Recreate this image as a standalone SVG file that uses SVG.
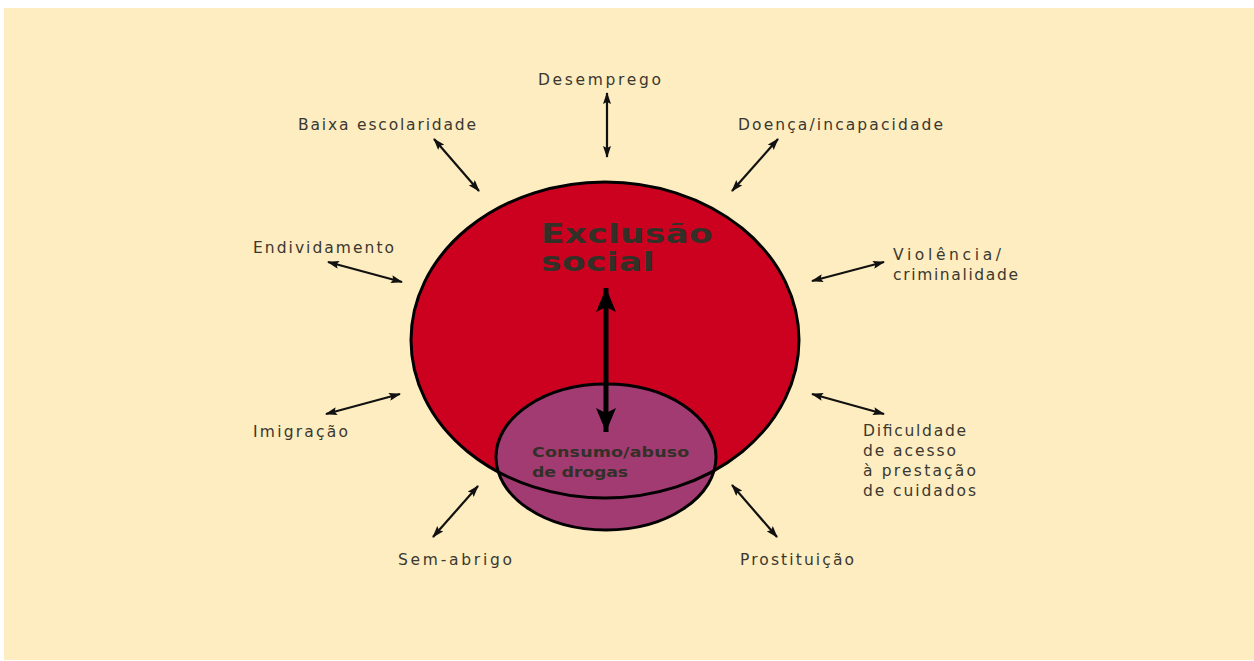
<svg xmlns="http://www.w3.org/2000/svg" width="1254" height="661" viewBox="0 0 1254 661">
<defs>
<marker id="ah" viewBox="0 0 12 8" refX="11" refY="4" markerWidth="12" markerHeight="8" markerUnits="userSpaceOnUse" orient="auto-start-reverse">
<path d="M0,0 L12,4 L0,8 L2,4 Z" fill="#111"/>
</marker>
<marker id="ahb" viewBox="0 0 24 20" refX="24" refY="10" markerWidth="24" markerHeight="20" markerUnits="userSpaceOnUse" orient="auto-start-reverse">
<path d="M0,0 L24,10 L0,20 L5,10 Z" fill="#000"/>
</marker>
<style>
.lbl{font-family:"DejaVu Sans","Liberation Sans",sans-serif;font-size:15.5px;fill:#3a3830}
.big{font-family:"DejaVu Sans","Liberation Sans",sans-serif;font-weight:bold;font-size:26px;fill:#333028}
.mid{font-family:"DejaVu Sans","Liberation Sans",sans-serif;font-weight:bold;font-size:14.5px;fill:#333028}
.arr{stroke:#111;stroke-width:2.2;fill:none;marker-start:url(#ah);marker-end:url(#ah)}
</style>
</defs>
<rect x="0" y="0" width="1254" height="661" fill="#ffffff"/>
<rect x="4" y="8" width="1250" height="652" fill="#FEEDC0"/>
<g id="exclusao">
<ellipse cx="605" cy="340" rx="194" ry="158" fill="#CC001F"/>
</g>
<g id="consumo">
<ellipse cx="606" cy="457" rx="110" ry="73" fill="#A33B73" stroke="#000" stroke-width="3"/>
<g transform="translate(532,0) scale(1.2,1)">
<text class="mid" x="0" y="457" textLength="131" lengthAdjust="spacing">Consumo/abuso</text>
<text class="mid" x="0" y="477" textLength="80" lengthAdjust="spacing">de drogas</text>
</g>
</g>
<g id="exclusao-outline">
<ellipse cx="605" cy="340" rx="194" ry="158" fill="none" stroke="#000" stroke-width="3"/>
<g transform="translate(541,0) scale(1.32,1)">
<text class="big" x="0" y="243" textLength="130" lengthAdjust="spacing">Exclusão</text>
<text class="big" x="0" y="271" textLength="86" lengthAdjust="spacing">social</text>
</g>
</g>
<g id="connectors">
<line x1="606" y1="288" x2="606" y2="432" stroke="#000" stroke-width="5" marker-start="url(#ahb)" marker-end="url(#ahb)"/>
<line class="arr" x1="607" y1="93" x2="607" y2="157"/>
<line class="arr" x1="434" y1="139" x2="479" y2="191"/>
<line class="arr" x1="778" y1="139" x2="732" y2="191"/>
<line class="arr" x1="328" y1="262" x2="402" y2="282"/>
<line class="arr" x1="884" y1="262" x2="812" y2="281"/>
<line class="arr" x1="400" y1="394" x2="326" y2="414"/>
<line class="arr" x1="812" y1="394" x2="884" y2="414"/>
<line class="arr" x1="478" y1="486" x2="433" y2="537"/>
<line class="arr" x1="732" y1="485" x2="777" y2="537"/>
</g>
<g id="desemprego"><text class="lbl" x="538" y="85" textLength="123" lengthAdjust="spacing">Desemprego</text></g>
<g id="baixa-escolaridade"><text class="lbl" x="298" y="130" textLength="178" lengthAdjust="spacing">Baixa escolaridade</text></g>
<g id="doenca"><text class="lbl" x="738" y="130" textLength="205" lengthAdjust="spacing">Doença/incapacidade</text></g>
<g id="endividamento"><text class="lbl" x="253" y="253" textLength="141" lengthAdjust="spacing">Endividamento</text></g>
<g id="violencia">
<text class="lbl" x="893" y="260" textLength="108" lengthAdjust="spacing">Violência/</text>
<text class="lbl" x="893" y="280" textLength="125" lengthAdjust="spacing">criminalidade</text>
</g>
<g id="imigracao"><text class="lbl" x="253" y="437" textLength="95" lengthAdjust="spacing">Imigração</text></g>
<g id="dificuldade">
<text class="lbl" x="863" y="436" textLength="103" lengthAdjust="spacing">Dificuldade</text>
<text class="lbl" x="863" y="456" textLength="93" lengthAdjust="spacing">de acesso</text>
<text class="lbl" x="863" y="476" textLength="113" lengthAdjust="spacing">à prestação</text>
<text class="lbl" x="863" y="496" textLength="113" lengthAdjust="spacing">de cuidados</text>
</g>
<g id="sem-abrigo"><text class="lbl" x="398" y="565" textLength="114" lengthAdjust="spacing">Sem-abrigo</text></g>
<g id="prostituicao"><text class="lbl" x="740" y="565" textLength="114" lengthAdjust="spacing">Prostituição</text></g>
</svg>
